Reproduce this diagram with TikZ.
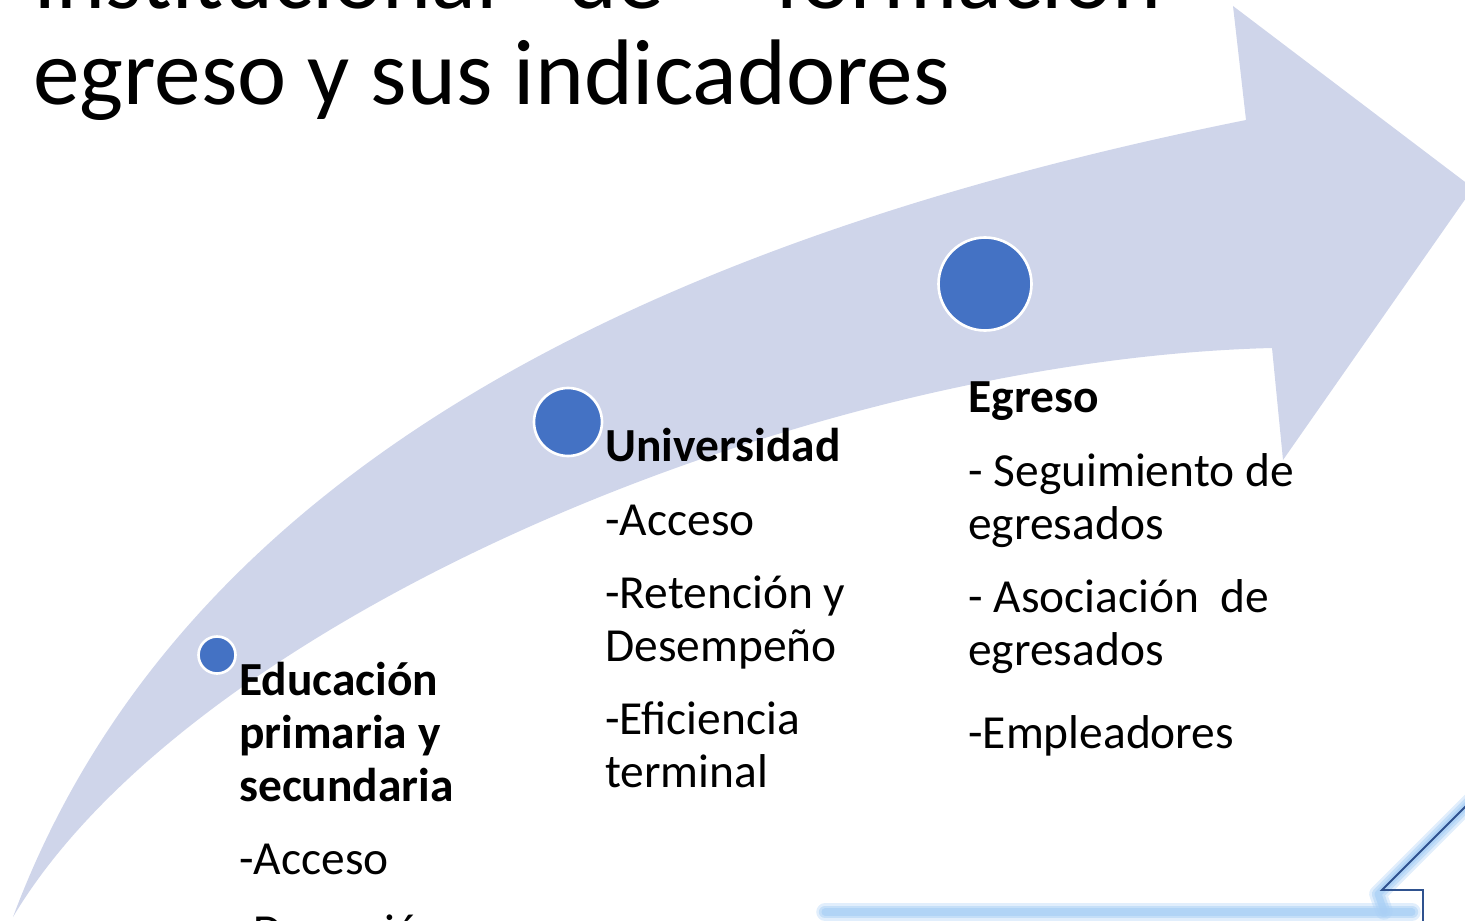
\documentclass[tikz,border=0pt]{standalone}
\usepackage{fontspec}
\setmainfont{Carlito}
\usepackage{tikz}
\usetikzlibrary{positioning}
\definecolor{bandcol}{HTML}{CFD5EA}
\definecolor{dotcol}{HTML}{4472C4}
\definecolor{callcol}{HTML}{2F528F}
\definecolor{glowcol}{HTML}{A9CFF5}
\newcommand{\bodyfont}{\fontsize{27}{30.2}\selectfont}
\newcommand{\titlefont}{\fontsize{53}{57}\selectfont}

\begin{document}
\begin{tikzpicture}[x=0.2mm,y=-0.2mm,
    dot/.style={circle, fill=dotcol, draw=white, line width=1.5pt, inner sep=0},
    lbl/.style={anchor=base west, inner sep=0, font=\bodyfont},
    ttl/.style={anchor=base west, inner sep=0, font=\titlefont},
    glow/.style={glowcol, line cap=round, line join=round}]
    \useasboundingbox (0,0) rectangle (1465,921);
    \clip (0,0) rectangle (1465,921);

    % curved arrow
    \fill[bandcol] (13,917) .. controls (180,470) and (650,240) .. (1246,120)
        -- (1233,6) -- (1473,188) -- (1283,460) -- (1272,348)
        .. controls (800,360) and (190,620) .. (13,917) -- cycle;

    % title
    \node[ttl] (tia) at (33,9) {Institucional};
    \node[ttl] (tib) at (568,9) {de};
    \node[ttl] (tic) at (775,9) {formación};
    \node[ttl] (tii) at (33,105) {egreso y sus indicadores};

    % stages
    \node[dot, minimum size=7.4mm] (dota) at (217,655) {};
    \node[dot, minimum size=13.6mm] (dotb) at (568,422) {};
    \node[dot, minimum size=18.6mm] (dotc) at (985,284) {};

    \node[lbl] (edu) at (239,695) {\begin{tabular}[t]{@{}l@{}}
        \textbf{Educación}\\ \textbf{primaria y}\\ \textbf{secundaria}\\[11.4pt]
        -Acceso\\[11.4pt] -Deserción\end{tabular}};
    \node[lbl] (uni) at (605,462) {\begin{tabular}[t]{@{}l@{}}
        \textbf{Universidad}\\[11.4pt] -Acceso\\[11.4pt] -Retención y\\ Desempeño\\[11.4pt]
        -Eficiencia\\ terminal\end{tabular}};
    \node[lbl] (egr) at (968,413) {\begin{tabular}[t]{@{}l@{}}
        \textbf{Egreso}\\[11.4pt] - Seguimiento de\\ egresados\\[11.4pt] - Asociación~~de\\ egresados\\[17pt]
        -Empleadores\end{tabular}};

    % callout corner
    \foreach \w/\o in {10/0.35, 7/0.5, 4/0.7}{
        \draw[glow, line width=\w pt, opacity=\o] (1472,800) -- (1378,894) -- (1384,911);
        \draw[glow, line width=\w pt, opacity=\o] (825,912) -- (1412,912);
    }
    \draw[callcol, line width=1.1pt] (1470,802) -- (1382,890) -- (1423,890) -- (1423,930);
\end{tikzpicture}
\end{document}
